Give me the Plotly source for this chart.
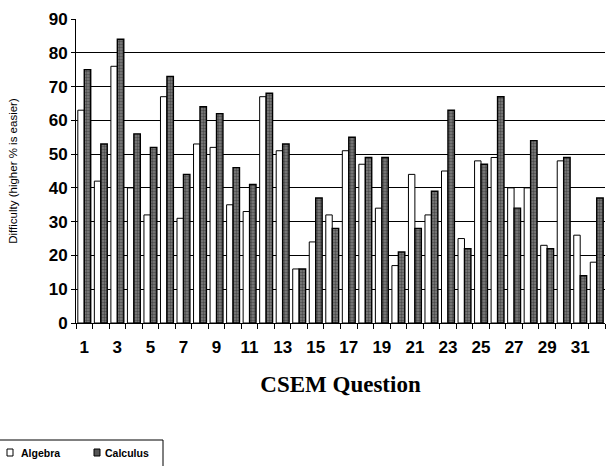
import plotly.graph_objects as go

questions = list(range(1, 33))
algebra = [63, 42, 76, 40, 32, 67, 31, 53, 52, 35, 33, 67, 51, 16, 24, 32,
           51, 47, 34, 17, 44, 32, 45, 25, 48, 49, 40, 40, 23, 48, 26, 18]
calculus = [75, 53, 84, 56, 52, 73, 44, 64, 62, 46, 41, 68, 53, 16, 37, 28,
            55, 49, 49, 21, 28, 39, 63, 22, 47, 67, 34, 54, 22, 49, 14, 37]
y_ticks = list(range(0, 91, 10))
x_tick_labels = list(range(1, 33, 2))
series_names = ["Algebra", "Calculus"]

ALG_FILL = "white"
CALC_FILL = "#808080"

fig = go.Figure()
fig.add_trace(go.Bar(
    x=questions, y=algebra, name=series_names[0],
    marker=dict(color=ALG_FILL, line=dict(color="black", width=1)),
))
fig.add_trace(go.Bar(
    x=questions, y=calculus, name=series_names[1],
    marker=dict(color=CALC_FILL, line=dict(color="black", width=1.4),
                pattern=dict(shape=".", fgcolor="#1a1a1a", bgcolor=CALC_FILL,
                             size=3, solidity=0.5)),
))

# custom legend (box, swatches, labels) placed in pixel offsets from the plot's origin
shapes = [
    dict(type="rect", xref="paper", yref="paper", xsizemode="pixel", ysizemode="pixel",
         xanchor=0, yanchor=0, x0=-77, x1=87, y0=-150, y1=-117,
         line=dict(color="black", width=1), fillcolor="white", layer="above"),
    dict(type="rect", xref="paper", yref="paper", xsizemode="pixel", ysizemode="pixel",
         xanchor=0, yanchor=0, x0=-69, x1=-63, y0=-133, y1=-126,
         line=dict(color="black", width=1), fillcolor=ALG_FILL, layer="above"),
    dict(type="rect", xref="paper", yref="paper", xsizemode="pixel", ysizemode="pixel",
         xanchor=0, yanchor=0, x0=18, x1=24, y0=-133, y1=-126,
         line=dict(color="black", width=1), fillcolor="#555555", layer="above"),
]
annotations = [
    dict(text="<b>" + series_names[0] + "</b>", xref="paper", yref="paper", x=0, y=0,
         xshift=-57, yshift=-130, xanchor="left", yanchor="middle", showarrow=False,
         font=dict(family="Liberation Sans", size=10.5, color="black")),
    dict(text="<b>" + series_names[1] + "</b>", xref="paper", yref="paper", x=0, y=0,
         xshift=27, yshift=-130, xanchor="left", yanchor="middle", showarrow=False,
         font=dict(family="Liberation Sans", size=10.5, color="black")),
]

fig.update_layout(
    width=606, height=466,
    margin=dict(l=76, r=1, t=19, b=143),
    paper_bgcolor="white", plot_bgcolor="white",
    barmode="group", bargap=0.22, bargroupgap=0.0,
    font=dict(family="Liberation Sans", color="black"),
    showlegend=False,
    shapes=shapes, annotations=annotations,
    xaxis=dict(
        range=[0.5, 32.5], tickmode="array", tickvals=x_tick_labels,
        ticktext=[str(v) for v in x_tick_labels],
        tickfont=dict(family="Liberation Sans", size=17, color="black", weight="bold"),
        ticks="", ticklabelstandoff=9,
        showgrid=False, showline=True, linecolor="black", linewidth=1,
        minor=dict(ticks="outside", tick0=0.5, dtick=1, ticklen=5,
                   tickcolor="black", tickwidth=1, showgrid=False),
        title=dict(text="<b>CSEM Question</b>",
                   font=dict(family="Liberation Serif", size=23, color="black"),
                   standoff=19),
        zeroline=False,
    ),
    yaxis=dict(
        range=[0, 90], tickmode="array", tickvals=y_ticks,
        tickfont=dict(family="Liberation Sans", size=17, color="black", weight="bold"),
        ticks="outside", ticklen=4, tickcolor="black",
        showgrid=True, gridcolor="black", gridwidth=1,
        showline=True, linecolor="black", linewidth=1, zeroline=False,
        title=dict(text="Difficulty (higher % is easier)",
                   font=dict(family="Liberation Sans", size=11.5, color="black"),
                   standoff=28),
    ),
)

fig.write_html(
    "out.html",
    config={"displayModeBar": False},
    post_script="document.body.style.margin='0';document.body.style.overflow='hidden';",
)
